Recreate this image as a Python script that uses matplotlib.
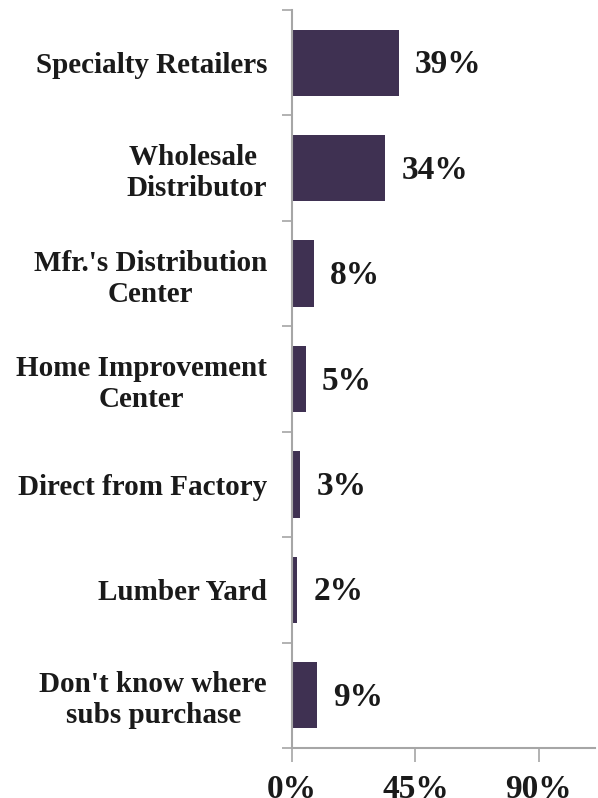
import matplotlib.pyplot as plt
import numpy as np

categories = [
    "Specialty Retailers",
    "Wholesale \nDistributor",
    "Mfr.'s Distribution\nCenter",
    "Home Improvement\nCenter",
    "Direct from Factory",
    "Lumber Yard",
    "Don't know where\nsubs purchase",
]
shares = [39, 34, 8, 5, 3, 2, 9]
x_ticks = [0, 45, 90]

BAR_COLOR = "#3f3152"
TEXT_COLOR = "#1a1a1a"
AXIS_COLOR = "#a6a6a6"

plt.rcParams["font.family"] = ["Liberation Serif", "DejaVu Serif"]
plt.rcParams["font.weight"] = "bold"

fig = plt.figure(figsize=(5.98, 7.98), dpi=100)
ax = fig.add_axes([292 / 598, 1 - 748 / 798, (595 - 292) / 598, (748 - 10) / 798])

pos = np.arange(len(categories))
ax.barh(pos, shares, height=0.63, color=BAR_COLOR)
ax.set_ylim(len(categories) - 0.5, -0.5)
ax.set_xlim(0, 110.5)

# percentage labels just past the end of each bar
for y, v in zip(pos, shares):
    ax.annotate(f"{v}%", (v, y), xytext=(11.5, -1.5), textcoords="offset points",
                ha="left", va="center", fontsize=24, fontweight="bold",
                color=TEXT_COLOR)

ax.set_yticks(pos)
ax.set_yticklabels(categories, fontsize=21, fontweight="bold", color=TEXT_COLOR,
                   multialignment="center", linespacing=1.2)
ax.tick_params(axis="y", length=0, pad=18)
# small ticks between categories
ax.set_yticks(np.arange(len(categories) + 1) - 0.5, minor=True)
ax.tick_params(axis="y", which="minor", length=7, width=1.2, color=AXIS_COLOR)

ax.set_xticks(x_ticks)
ax.set_xticklabels([f"{t}%" for t in x_ticks], fontsize=24, fontweight="bold",
                   color=TEXT_COLOR)
ax.tick_params(axis="x", length=10, width=1.2, color=AXIS_COLOR, pad=9)

for side in ("top", "right"):
    ax.spines[side].set_visible(False)
for side in ("left", "bottom"):
    ax.spines[side].set_color(AXIS_COLOR)
    ax.spines[side].set_linewidth(1.5)

fig.savefig("out.png", dpi=100)
